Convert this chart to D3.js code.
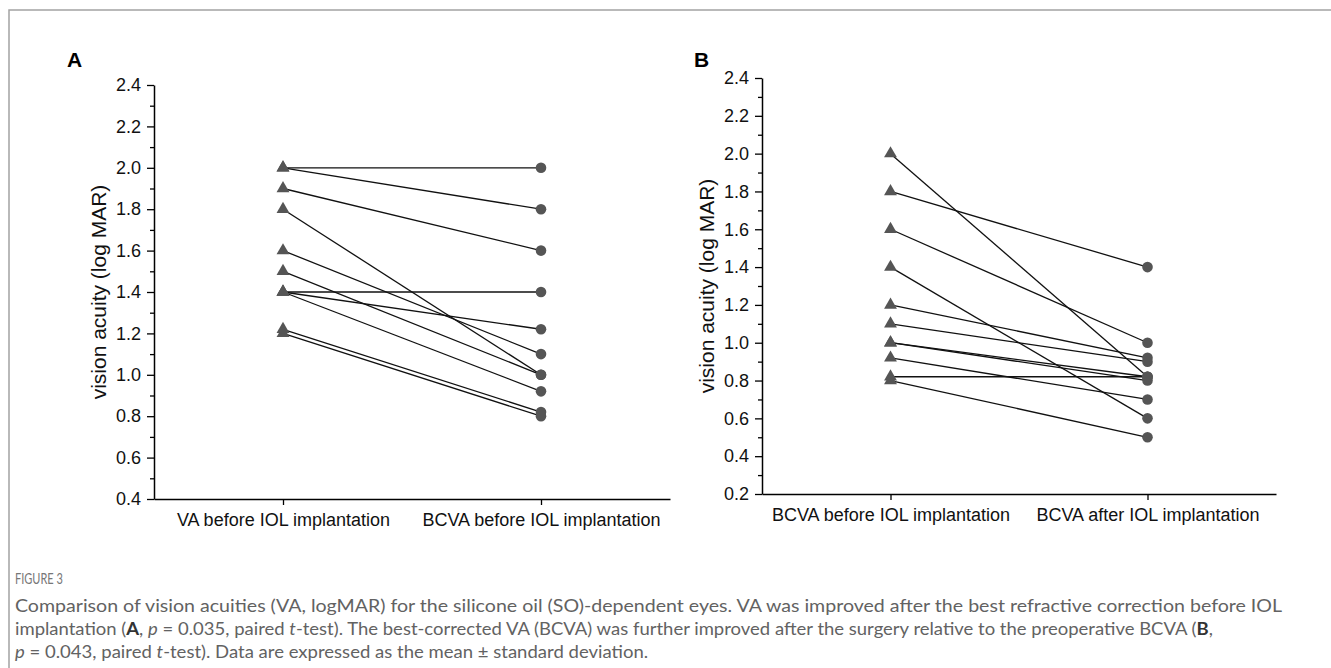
<!DOCTYPE html>
<html><head><meta charset="utf-8">
<script src="https://cdn.jsdelivr.net/npm/d3@7"></script>
<style>
html,body{margin:0;padding:0;background:#fff;}
svg{display:block;}
</style></head>
<body>
<svg id="chart" width="1331" height="668"></svg>
<script>
// ---- data ----
const categoriesA = ["VA before IOL implantation", "BCVA before IOL implantation"];
const beforeA = [2.0, 2.0, 1.9, 1.8, 1.6, 1.5, 1.4, 1.4, 1.4, 1.22, 1.2];
const afterA  = [2.0, 1.8, 1.6, 1.0, 1.1, 1.0, 1.4, 1.22, 0.92, 0.82, 0.8];
const ticksA = [0.4, 0.6, 0.8, 1.0, 1.2, 1.4, 1.6, 1.8, 2.0, 2.2, 2.4];

const categoriesB = ["BCVA before IOL implantation", "BCVA after IOL implantation"];
const beforeB = [2.0, 1.8, 1.6, 1.4, 1.2, 1.1, 1.0, 1.0, 0.92, 0.82, 0.8];
const afterB  = [0.82, 1.4, 1.0, 0.6, 0.92, 0.9, 0.82, 0.8, 0.7, 0.82, 0.5];
const ticksB = [0.2, 0.4, 0.6, 0.8, 1.0, 1.2, 1.4, 1.6, 1.8, 2.0, 2.2, 2.4];

const yTitle = "vision acuity (log MAR)";
const panelLabels = ["A", "B"];

const svg = d3.select("#chart");
const axisFont = "'Liberation Sans', Arial, sans-serif";

// frame
svg.append("path").attr("d", "M9,668 V10 H1331").attr("fill", "none")
  .attr("stroke", "#a3a3a3").attr("stroke-width", 1.5);

function panel(cfg) {
  const g = svg.append("g");
  const y = d3.scaleLinear().domain(cfg.domain).range([cfg.bottom, cfg.top]);
  const x = d3.scalePoint().domain(cfg.categories).range([cfg.left, cfg.right]).padding(0.5);

  // minor ticks
  const minor = [];
  for (let i = 0; i < cfg.ticks.length - 1; i++) minor.push((cfg.ticks[i] + cfg.ticks[i + 1]) / 2);
  const gm = g.append("g").attr("transform", `translate(${cfg.left},0)`)
    .call(d3.axisLeft(y).tickValues(minor).tickSize(4).tickSizeOuter(0).tickFormat(""));
  gm.select(".domain").remove();
  gm.selectAll("line").attr("stroke", "#000").attr("stroke-width", 1.3);

  const gy = g.append("g").attr("transform", `translate(${cfg.left},0)`)
    .call(d3.axisLeft(y).tickValues(cfg.ticks).tickSize(7).tickSizeOuter(0).tickPadding(6).tickFormat(d3.format(".1f")));
  gy.select(".domain").attr("stroke", "#000").attr("stroke-width", 1.5);
  gy.selectAll("line").attr("stroke", "#000").attr("stroke-width", 1.3);
  gy.selectAll("text").attr("font-family", axisFont).attr("font-size", 18).attr("fill", "#111");

  const gx = g.append("g").attr("transform", `translate(0,${cfg.bottom})`)
    .call(d3.axisBottom(x).tickSize(6).tickSizeOuter(0).tickPadding(8));
  gx.select(".domain").attr("stroke", "#000").attr("stroke-width", 1.5);
  gx.selectAll("line").attr("stroke", "#000").attr("stroke-width", 1.3);
  gx.selectAll("text").attr("font-family", axisFont).attr("font-size", 18).attr("fill", "#111");

  // y title
  g.append("text")
    .attr("transform", `translate(${cfg.titleX},${(cfg.top + cfg.bottom) / 2}) rotate(-90)`)
    .attr("text-anchor", "middle").attr("dominant-baseline", "middle")
    .attr("font-family", axisFont).attr("font-size", 21).attr("fill", "#111")
    .text(yTitle);

  // panel label
  g.append("text").attr("x", cfg.labelX).attr("y", 67)
    .attr("font-family", axisFont).attr("font-size", 21).attr("font-weight", "bold").attr("fill", "#000")
    .text(cfg.label);

  const pairs = cfg.before.map((b, i) => ({ b, a: cfg.after[i] }));
  const x0 = x(cfg.categories[0]), x1 = x(cfg.categories[1]);

  g.append("g").selectAll("line").data(pairs).join("line")
    .attr("x1", x0).attr("y1", d => y(d.b))
    .attr("x2", x1).attr("y2", d => y(d.a))
    .attr("stroke", "#111").attr("stroke-width", 1.3);

  g.append("g").selectAll("path").data(pairs).join("path")
    .attr("d", d3.symbol(d3.symbolTriangle, 72))
    .attr("transform", d => `translate(${x0},${y(d.b)})`)
    .attr("fill", "#555");

  g.append("g").selectAll("circle").data(pairs).join("circle")
    .attr("cx", x1).attr("cy", d => y(d.a)).attr("r", 5.3)
    .attr("fill", "#555");
}

panel({ categories: categoriesA, before: beforeA, after: afterA, ticks: ticksA,
  domain: [0.4, 2.4], left: 154, right: 670, top: 85, bottom: 499,
  titleX: 100, labelX: 67, label: panelLabels[0] });

panel({ categories: categoriesB, before: beforeB, after: afterB, ticks: ticksB,
  domain: [0.2, 2.4], left: 762, right: 1276, top: 78, bottom: 494,
  titleX: 708, labelX: 694, label: panelLabels[1] });

// caption
const capFont = "Lato, 'Open Sans', sans-serif";
const capColor = "#626262";

function fitText(text, x, yb, size, endX, color, segsMode) {
  const g = svg.append("g");
  const t = g.append("text").attr("x", x).attr("y", yb)
    .attr("font-family", capFont).attr("font-size", size).attr("fill", color);
  text.forEach(([s, st]) => {
    const ts = t.append("tspan").text(s);
    if (st === "b") ts.attr("font-weight", "bold").attr("fill", "#333");
    if (st === "i") ts.attr("font-style", "italic");
  });
  const w = t.node().getComputedTextLength();
  const sx = (endX - x) / w;
  g.attr("transform", `translate(${x},0) scale(${sx},1) translate(${-x},0)`);
}

fitText([["FIGURE 3", ""]], 15, 584, 14.5, 63, "#777");

const captionLines = [
  [["Comparison of vision acuities (VA, logMAR) for the silicone oil (SO)-dependent eyes. VA was improved after the best refractive correction before IOL", ""]],
  [["implantation (", ""], ["A", "b"], [", ", ""], ["p", "i"], [" = 0.035, paired ", ""], ["t", "i"],
   ["-test). The best-corrected VA (BCVA) was further improved after the surgery relative to the preoperative BCVA (", ""], ["B", "b"], [",", ""]],
  [["p", "i"], [" = 0.043, paired ", ""], ["t", "i"], ["-test). Data are expressed as the mean ± standard deviation.", ""]]
];
const capBaselines = [612, 635, 658];
const capEnds = [1283, 1214, 649];
captionLines.forEach((segs, li) => fitText(segs, 15, capBaselines[li], 17, capEnds[li], capColor));
</script>
</body></html>
